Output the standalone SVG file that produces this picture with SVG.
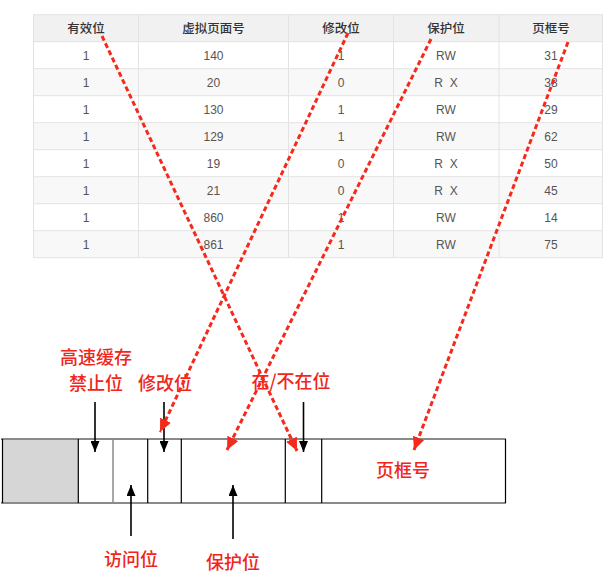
<svg xmlns="http://www.w3.org/2000/svg" width="615" height="580" viewBox="0 0 615 580">
<style>
.th{font-family:"Liberation Sans","Noto Sans CJK SC",sans-serif;font-size:12.5px;fill:#333;text-anchor:middle;font-weight:500}
.td{font-family:"Liberation Sans","Noto Sans CJK SC",sans-serif;font-size:12px;fill:#555;text-anchor:middle}
.grid{stroke:#e3e3e3;stroke-width:1;fill:none}
.lbl{font-family:"Noto Sans CJK SC",sans-serif;font-size:18px;fill:#f0261b;text-anchor:middle;font-weight:500}
.red{stroke:#f52a1c;stroke-width:3;stroke-dasharray:5 3;fill:none;marker-end:url(#ra)}
.blk{stroke:#000;stroke-width:1.6;fill:none;marker-end:url(#ba)}
.cell{stroke:#000;stroke-width:1.2}
</style>
<defs>
<marker id="ra" markerUnits="userSpaceOnUse" markerWidth="14" markerHeight="12" refX="13" refY="6" orient="auto"><path d="M0,0 L13,6 L0,12 z" fill="#f52a1c"/></marker>
<marker id="ba" markerUnits="userSpaceOnUse" markerWidth="11" markerHeight="9" refX="11" refY="4.5" orient="auto"><path d="M0,0 L11,4.5 L0,9 z" fill="#000"/></marker>
</defs>
<g id="table">
<rect x="33.5" y="14.7" width="569" height="27" fill="#f1f1f1"/>
<rect x="33.5" y="68.7" width="569" height="27" fill="#f8f8f8"/>
<rect x="33.5" y="122.7" width="569" height="27" fill="#f8f8f8"/>
<rect x="33.5" y="176.7" width="569" height="27" fill="#f8f8f8"/>
<rect x="33.5" y="230.7" width="569" height="27" fill="#f8f8f8"/>
<rect class="grid" x="33.5" y="14.7" width="569" height="243"/>
<path class="grid" d="M33.5,41.7H602.5M33.5,68.7H602.5M33.5,95.7H602.5M33.5,122.7H602.5M33.5,149.7H602.5M33.5,176.7H602.5M33.5,203.7H602.5M33.5,230.7H602.5M138.5,14.7V257.7M288.5,14.7V257.7M393.5,14.7V257.7M499,14.7V257.7"/>
<text class="th" x="86" y="32.5">有效位</text>
<text class="th" x="213.5" y="32.5">虚拟页面号</text>
<text class="th" x="341" y="32.5">修改位</text>
<text class="th" x="446" y="32.5">保护位</text>
<text class="th" x="551" y="32.5">页框号</text>
<g>
<text class="td" x="86" y="59.5">1</text><text class="td" x="213.5" y="59.5">140</text><text class="td" x="341" y="59.5">1</text><text class="td" x="446" y="59.5">RW</text><text class="td" x="551" y="59.5">31</text>
<text class="td" x="86" y="86.5">1</text><text class="td" x="213.5" y="86.5">20</text><text class="td" x="341" y="86.5">0</text><text class="td" x="446" y="86.5" xml:space="preserve">R  X</text><text class="td" x="551" y="86.5">38</text>
<text class="td" x="86" y="113.5">1</text><text class="td" x="213.5" y="113.5">130</text><text class="td" x="341" y="113.5">1</text><text class="td" x="446" y="113.5">RW</text><text class="td" x="551" y="113.5">29</text>
<text class="td" x="86" y="140.5">1</text><text class="td" x="213.5" y="140.5">129</text><text class="td" x="341" y="140.5">1</text><text class="td" x="446" y="140.5">RW</text><text class="td" x="551" y="140.5">62</text>
<text class="td" x="86" y="167.5">1</text><text class="td" x="213.5" y="167.5">19</text><text class="td" x="341" y="167.5">0</text><text class="td" x="446" y="167.5" xml:space="preserve">R  X</text><text class="td" x="551" y="167.5">50</text>
<text class="td" x="86" y="194.5">1</text><text class="td" x="213.5" y="194.5">21</text><text class="td" x="341" y="194.5">0</text><text class="td" x="446" y="194.5" xml:space="preserve">R  X</text><text class="td" x="551" y="194.5">45</text>
<text class="td" x="86" y="221.5">1</text><text class="td" x="213.5" y="221.5">860</text><text class="td" x="341" y="221.5">1</text><text class="td" x="446" y="221.5">RW</text><text class="td" x="551" y="221.5">14</text>
<text class="td" x="86" y="248.5">1</text><text class="td" x="213.5" y="248.5">861</text><text class="td" x="341" y="248.5">1</text><text class="td" x="446" y="248.5">RW</text><text class="td" x="551" y="248.5">75</text>
</g>
</g>
<g id="entry">
<rect x="2" y="439" width="76" height="64" fill="#d6d6d6"/>
<path d="M1,439H506M1,503H506" stroke="#8a8a8a" stroke-width="2"/>
<path class="cell" d="M2.5,439V503M78.3,439V503M147.7,439V503M181.3,439V503M285.3,439V503M321.7,439V503M505.5,439V503"/>
<path d="M113,439V503" stroke="#8a8a8a" stroke-width="1.5"/>
</g>
<g id="labels">
<text class="lbl" x="96" y="364">高速缓存</text>
<text class="lbl" x="96" y="390">禁止位</text>
<text class="lbl" x="165" y="390">修改位</text>
<text class="lbl" x="291" y="388">在/不在位</text>
<text class="lbl" x="131" y="566">访问位</text>
<text class="lbl" x="233" y="569">保护位</text>
<text class="lbl" x="403" y="477">页框号</text>
</g>
<g id="connectors">
<line class="blk" x1="95" y1="402" x2="95" y2="452"/>
<line class="blk" x1="164" y1="402" x2="164" y2="452"/>
<line class="blk" x1="303.5" y1="402" x2="303.5" y2="452"/>
<line class="blk" x1="131" y1="536" x2="131" y2="485"/>
<line class="blk" x1="233" y1="539" x2="233" y2="485"/>
<line class="red" x1="102" y1="36" x2="297" y2="451"/>
<line class="red" x1="348" y1="33" x2="160" y2="432"/>
<line class="red" x1="431" y1="39" x2="227" y2="450"/>
<line class="red" x1="568" y1="42" x2="414" y2="450"/>
</g>
</svg>
